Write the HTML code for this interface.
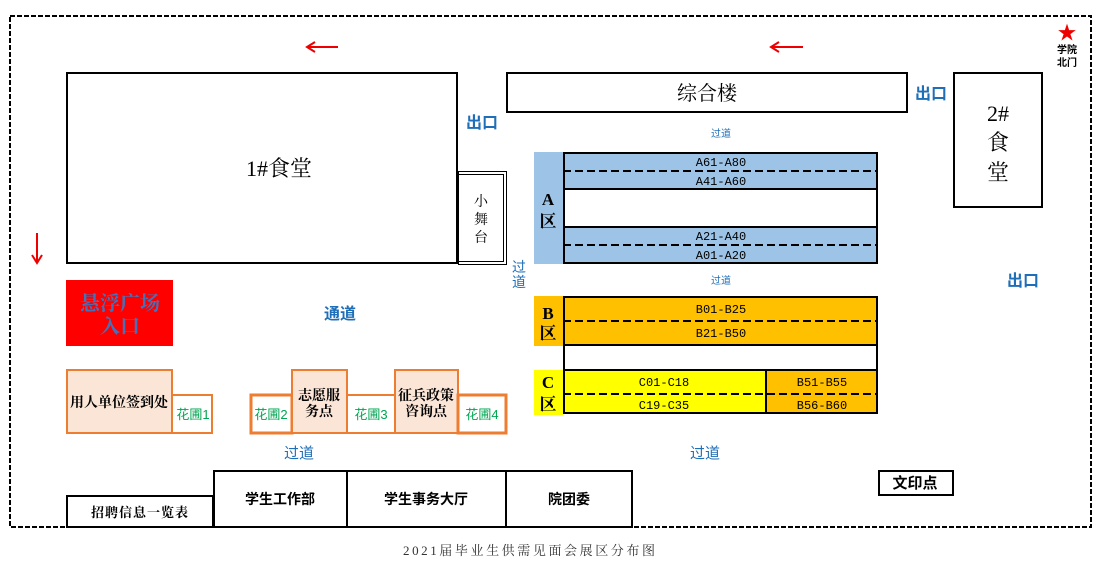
<!DOCTYPE html>
<html><head><meta charset="utf-8"><style>
html,body{margin:0;padding:0;background:#fff;}
svg{display:block;}
.s{font-family:"Liberation Serif","Noto Serif CJK SC",serif;}
.h{font-family:"Liberation Sans","Noto Sans CJK SC",sans-serif;}
.m{font-family:"Liberation Mono","Noto Sans CJK SC",monospace;}
.blue{fill:#1f6fb8;}
.grn{fill:#00a550;}
</style></head><body>
<svg width="1104" height="567" viewBox="0 0 1104 567" xmlns="http://www.w3.org/2000/svg">
<rect x="0" y="0" width="1104" height="567" fill="#fff"/>
<!-- outer dashed border -->
<rect x="10" y="16" width="1081" height="511" fill="none" stroke="#000" stroke-width="2" stroke-dasharray="5,2"/>

<!-- arrows -->
<g stroke="#e00" stroke-width="2" fill="none">
<line x1="308" y1="47" x2="338" y2="47"/><polyline points="315,42 307,47 315,52"/>
<line x1="772" y1="47" x2="803" y2="47"/><polyline points="779,42 771,47 779,52"/>
<line x1="37" y1="233" x2="37" y2="262"/><polyline points="32,255 37,263 42,255"/>
</g>

<!-- 1#食堂 -->
<rect x="67" y="73" width="390" height="190" fill="none" stroke="#000" stroke-width="2"/>
<text x="279" y="176" class="s" font-size="22" text-anchor="middle">1#食堂</text>

<!-- 小舞台 -->
<rect x="458.5" y="171.5" width="48" height="93" fill="none" stroke="#000" stroke-width="1"/>
<rect x="458.5" y="174.5" width="45" height="87" fill="none" stroke="#000" stroke-width="1"/>
<g class="s" font-size="14" text-anchor="middle">
<text x="481" y="206">小</text><text x="481" y="224">舞</text><text x="481" y="242">台</text>
</g>

<!-- 出口 labels -->
<g class="h blue" font-size="16" font-weight="bold" text-anchor="middle">
<text x="482" y="128">出口</text>
<text x="931" y="99">出口</text>
<text x="1023" y="286">出口</text>
<text x="340" y="319">通道</text>
</g>

<!-- 综合楼 -->
<rect x="507" y="73" width="400" height="39" fill="none" stroke="#000" stroke-width="2"/>
<text x="707" y="100" class="s" font-size="20" text-anchor="middle">综合楼</text>

<!-- 2#食堂 -->
<rect x="954" y="73" width="88" height="134" fill="none" stroke="#000" stroke-width="2"/>
<g class="s" font-size="22" text-anchor="middle">
<text x="998" y="121">2#</text><text x="998" y="150">食</text><text x="998" y="180">堂</text>
</g>

<!-- star / 学院北门 -->
<text x="1067" y="39" font-size="19" fill="#e00" text-anchor="middle" class="h">★</text>
<g class="h" font-size="10" font-weight="bold" text-anchor="middle">
<text x="1067" y="53">学院</text><text x="1067" y="66">北门</text>
</g>

<!-- small 过道 -->
<g class="h blue" font-size="10" text-anchor="middle">
<text x="721" y="137">过道</text>
<text x="721" y="284">过道</text>
</g>
<g class="h blue" font-size="14" text-anchor="middle">
<text x="519" y="272">过</text><text x="519" y="287">道</text>
<text x="299" y="458" font-size="15">过道</text>
<text x="705" y="458" font-size="15">过道</text>
</g>

<!-- A 区 -->
<rect x="534" y="152" width="29" height="112" fill="#9dc3e6"/>
<rect x="563" y="152" width="315" height="37" fill="#9dc3e6"/>
<rect x="563" y="227" width="315" height="37" fill="#9dc3e6"/>
<g stroke="#000" stroke-width="2" fill="none">
<rect x="564" y="153" width="313" height="110"/>
<line x1="563" y1="189" x2="878" y2="189"/>
<line x1="563" y1="227" x2="878" y2="227"/>
<line x1="563" y1="171" x2="878" y2="171" stroke-dasharray="8,4"/>
<line x1="563" y1="245" x2="878" y2="245" stroke-dasharray="8,4"/>
</g>
<g class="m" font-size="12" text-anchor="middle">
<text x="721" y="166">A61-A80</text>
<text x="721" y="185">A41-A60</text>
<text x="721" y="240">A21-A40</text>
<text x="721" y="259">A01-A20</text>
</g>
<g class="s" font-size="17" font-weight="bold" text-anchor="middle">
<text x="548" y="205">A</text><text x="548" y="227">区</text>
</g>

<!-- B 区 -->
<rect x="534" y="296" width="29" height="50" fill="#ffc000"/>
<rect x="563" y="296" width="315" height="49" fill="#ffc000"/>
<!-- C 区 -->
<rect x="534" y="370" width="29" height="45" fill="#ffff00"/>
<rect x="563" y="370" width="203" height="44" fill="#ffff00"/>
<rect x="766" y="370" width="112" height="44" fill="#ffc000"/>
<g stroke="#000" stroke-width="2" fill="none">
<rect x="564" y="297" width="313" height="116"/>
<line x1="563" y1="345" x2="878" y2="345"/>
<line x1="563" y1="370" x2="878" y2="370"/>
<line x1="766" y1="370" x2="766" y2="414"/>
<line x1="563" y1="321" x2="878" y2="321" stroke-dasharray="8,4"/>
<line x1="563" y1="394" x2="878" y2="394" stroke-dasharray="8,4"/>
</g>
<g class="m" font-size="12" text-anchor="middle">
<text x="721" y="313">B01-B25</text>
<text x="721" y="337">B21-B50</text>
<text x="664" y="386">C01-C18</text>
<text x="664" y="409">C19-C35</text>
<text x="822" y="386">B51-B55</text>
<text x="822" y="409">B56-B60</text>
</g>
<g class="s" font-size="17" font-weight="bold" text-anchor="middle">
<text x="548" y="319">B</text><text x="548" y="339">区</text>
<text x="548" y="388">C</text><text x="548" y="410">区</text>
</g>

<!-- 悬浮广场入口 -->
<rect x="66" y="280" width="107" height="66" fill="#ff0000"/>
<g class="s" font-size="20" font-weight="bold" text-anchor="middle" fill="#4670b8">
<text x="120" y="310">悬浮广场</text>
<text x="120" y="333">入口</text>
</g>

<!-- peach boxes & 花圃 -->
<g stroke="#ed7d31" stroke-width="2">
<rect x="67" y="370" width="105" height="63" fill="#fbe5d6"/>
<rect x="172" y="395" width="40" height="38" fill="#fff"/>
<rect x="251" y="395" width="41" height="38" fill="#fff" stroke-width="3"/>
<rect x="292" y="370" width="55" height="63" fill="#fbe5d6"/>
<rect x="347" y="395" width="48" height="38" fill="#fff"/>
<rect x="395" y="370" width="63" height="63" fill="#fbe5d6"/>
<rect x="458" y="395" width="48" height="38" fill="#fff" stroke-width="3"/>
</g>
<g class="s" font-size="14" font-weight="bold" text-anchor="middle">
<text x="119" y="407">用人单位签到处</text>
<text x="319" y="400">志愿服</text>
<text x="319" y="416">务点</text>
<text x="426" y="400">征兵政策</text>
<text x="426" y="416">咨询点</text>
</g>
<g class="h grn" font-size="13" text-anchor="middle">
<text x="193" y="419">花圃1</text>
<text x="271" y="419">花圃2</text>
<text x="371" y="419">花圃3</text>
<text x="482" y="419">花圃4</text>
</g>

<!-- bottom buildings -->
<g stroke="#000" stroke-width="2" fill="#fff">
<rect x="67" y="496" width="146" height="31"/>
<rect x="214" y="471" width="133" height="56"/>
<rect x="347" y="471" width="159" height="56"/>
<rect x="506" y="471" width="126" height="56"/>
<rect x="879" y="471" width="74" height="24"/>
</g>
<text x="140" y="517" class="s" font-size="13" font-weight="bold" text-anchor="middle" letter-spacing="1">招聘信息一览表</text>
<g class="h" font-size="14" font-weight="bold" text-anchor="middle">
<text x="280" y="504">学生工作部</text>
<text x="426" y="504">学生事务大厅</text>
<text x="569" y="504">院团委</text>
<text x="915" y="488" font-size="15">文印点</text>
</g>

<!-- caption -->
<text x="403" y="555" class="s" font-size="13" fill="#333" textLength="252" lengthAdjust="spacing">2021届毕业生供需见面会展区分布图</text>
</svg>
</body></html>
